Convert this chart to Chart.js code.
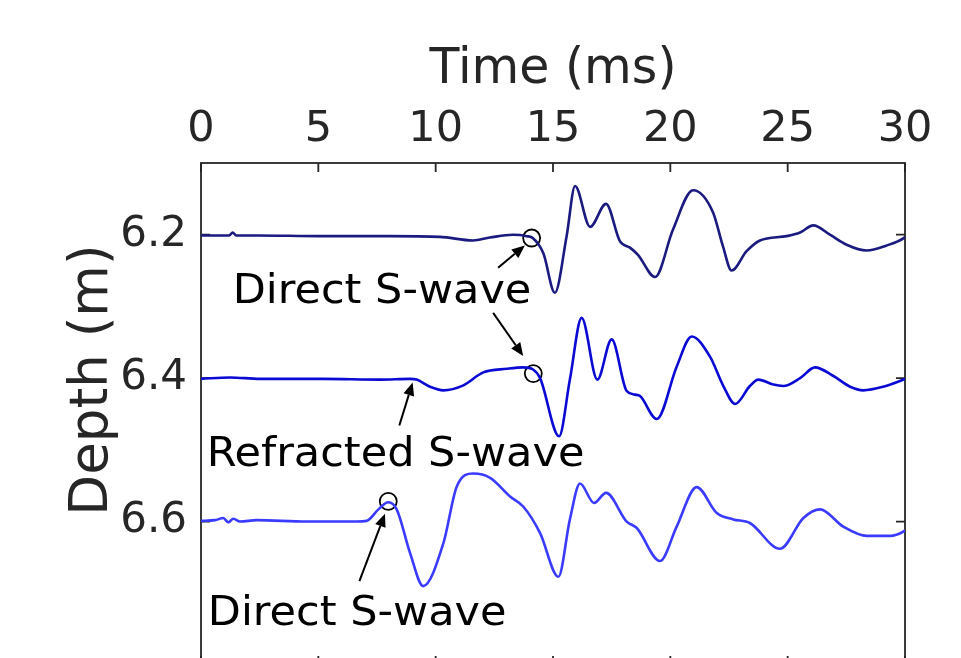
<!DOCTYPE html>
<html>
<head>
<meta charset="utf-8">
<script src="https://cdn.jsdelivr.net/npm/chart.js@4.4.0/dist/chart.umd.min.js"></script>
<style>
  html, body { margin: 0; padding: 0; background: #fff; overflow: hidden; }
  #wrap { width: 961px; height: 700px; position: relative; }
</style>
</head>
<body>
<div id="wrap"><canvas id="traces"></canvas></div>
<script>
// Seismic traces at three depths, time on top axis, depth reversed on the left

const timeTicks = [0, 5, 10, 15, 20, 25, 30];
const depthTicks = [6.2, 6.4, 6.6];

// trace at 6.2 m
const t1 = [0, 1.2, 1.35, 1.5, 2.39, 5.07, 8.05, 10.18, 11.59, 12.31, 13.29, 13.89, 14.15, 14.59, 15.08, 15.58, 15.94, 16.58, 17.26, 17.85, 18.28, 18.62, 19.35, 20.11, 20.97, 21.82, 22.24, 22.61, 23.25, 23.82, 24.96, 25.53, 26.09, 26.80, 27.51, 28.37, 29.22, 29.93, 30];
const d1 = [6.201, 6.201, 6.197, 6.201, 6.201, 6.202, 6.202, 6.203, 6.208, 6.204, 6.200, 6.202, 6.205, 6.226, 6.281, 6.202, 6.132, 6.189, 6.157, 6.209, 6.218, 6.228, 6.259, 6.193, 6.138, 6.169, 6.216, 6.250, 6.223, 6.208, 6.202, 6.197, 6.187, 6.200, 6.214, 6.222, 6.215, 6.205, 6.203];

// trace at 6.4 m
const t2 = [0, 1.24, 2.51, 5.20, 7.63, 8.91, 9.19, 9.76, 10.33, 11.18, 12.03, 13.03, 13.73, 14.15, 14.45, 15.26, 15.72, 16.22, 16.89, 17.50, 18.14, 18.49, 18.71, 19.42, 20.27, 20.91, 21.69, 22.26, 22.76, 23.39, 23.75, 24.39, 24.81, 25.53, 26.16, 26.95, 27.66, 28.22, 29.07, 29.93, 30];
const d2 = [6.401, 6.399, 6.401, 6.401, 6.402, 6.401, 6.402, 6.412, 6.417, 6.410, 6.392, 6.387, 6.385, 6.388, 6.400, 6.481, 6.402, 6.316, 6.402, 6.346, 6.418, 6.423, 6.425, 6.457, 6.384, 6.342, 6.370, 6.411, 6.436, 6.411, 6.402, 6.409, 6.411, 6.400, 6.385, 6.397, 6.412, 6.417, 6.412, 6.402, 6.401];

// trace at 6.6 m
const t3 = [0, 0.60, 0.95, 1.16, 1.38, 1.66, 2.37, 4.50, 6.63, 7.06, 7.56, 7.98, 8.34, 8.91, 9.47, 10.33, 10.90, 11.60, 12.32, 13.17, 13.73, 14.45, 15.23, 15.72, 16.15, 16.75, 17.26, 18.14, 18.57, 19.56, 20.27, 21.12, 21.98, 22.68, 23.39, 24.67, 25.67, 26.38, 27.37, 28.37, 29.36, 29.93, 30];
const d3 = [6.599, 6.598, 6.595, 6.601, 6.596, 6.600, 6.598, 6.600, 6.600, 6.599, 6.583, 6.573, 6.583, 6.644, 6.690, 6.630, 6.551, 6.533, 6.539, 6.565, 6.579, 6.616, 6.677, 6.597, 6.547, 6.574, 6.560, 6.600, 6.609, 6.655, 6.607, 6.552, 6.588, 6.597, 6.602, 6.638, 6.595, 6.583, 6.607, 6.620, 6.620, 6.614, 6.612];

// picked arrivals (circles)
const pickTimes = [14.09, 14.16, 7.98];
const pickDepths = [6.2046, 6.3937, 6.5717];

// annotation arrows: [time, depth]
const arrowTails = [[12.66, 6.246], [12.45, 6.309], [8.45, 6.466], [6.75, 6.683]];
const arrowHeads = [[13.80, 6.215], [13.73, 6.369], [9.02, 6.406], [7.84, 6.589]];

// annotation texts, left edge / baseline in data units
const noteTexts = ['Direct S-wave', 'Refracted S-wave', 'Direct S-wave'];
const noteTimes = [1.35, 0.24, 0.29];
const noteDepths = [6.2948, 6.522, 6.7436];

const FONT = 'DejaVu Sans';
const INK = '#262626';
const WIDEN = 1.075; // reference face runs a bit wider than DejaVu

function pts(ts, ds) {
  return ts.map((t, i) => ({ x: t, y: ds[i] }));
}

function trace(data, color) {
  return {
    type: 'line',
    data,
    borderColor: color,
    borderWidth: 2.6,
    pointRadius: 0,
    cubicInterpolationMode: 'monotone',
    fill: false
  };
}

// box with inward ticks, drawn under the traces
const frame = {
  id: 'frame',
  beforeDatasetsDraw(chart) {
    const { ctx, chartArea: a, scales: { x, y } } = chart;
    ctx.save();
    ctx.strokeStyle = INK;
    ctx.lineWidth = 1.8;
    ctx.strokeRect(a.left, a.top, a.right - a.left, a.bottom - a.top);
    ctx.beginPath();
    timeTicks.forEach(v => {
      const px = x.getPixelForValue(v);
      ctx.moveTo(px, a.top); ctx.lineTo(px, a.top + 9);
      ctx.moveTo(px, a.bottom); ctx.lineTo(px, a.bottom - 9);
    });
    depthTicks.forEach(v => {
      const py = y.getPixelForValue(v);
      ctx.moveTo(a.left, py); ctx.lineTo(a.left + 9, py);
      ctx.moveTo(a.right, py); ctx.lineTo(a.right - 9, py);
    });
    ctx.stroke();
    ctx.restore();
  }
};

// arrows, notes and the y title
const notes = {
  id: 'notes',
  afterDatasetsDraw(chart) {
    const { ctx, scales: { x, y } } = chart;
    ctx.save();
    ctx.strokeStyle = '#000';
    ctx.fillStyle = '#000';
    ctx.lineWidth = 2;
    arrowTails.forEach((tail, i) => {
      const x0 = x.getPixelForValue(tail[0]), y0 = y.getPixelForValue(tail[1]);
      const x1 = x.getPixelForValue(arrowHeads[i][0]), y1 = y.getPixelForValue(arrowHeads[i][1]);
      const ang = Math.atan2(y1 - y0, x1 - x0);
      const hl = 13, hw = 5.5;
      ctx.beginPath();
      ctx.moveTo(x0, y0);
      ctx.lineTo(x1 - hl * Math.cos(ang), y1 - hl * Math.sin(ang));
      ctx.stroke();
      ctx.beginPath();
      ctx.moveTo(x1, y1);
      ctx.lineTo(x1 - hl * Math.cos(ang) + hw * Math.sin(ang), y1 - hl * Math.sin(ang) - hw * Math.cos(ang));
      ctx.lineTo(x1 - hl * Math.cos(ang) - hw * Math.sin(ang), y1 - hl * Math.sin(ang) + hw * Math.cos(ang));
      ctx.closePath();
      ctx.fill();
    });

    ctx.font = '40px "' + FONT + '"';
    ctx.textAlign = 'left';
    ctx.textBaseline = 'alphabetic';
    noteTexts.forEach((s, i) => {
      ctx.save();
      ctx.translate(x.getPixelForValue(noteTimes[i]), y.getPixelForValue(noteDepths[i]));
      ctx.scale(WIDEN, 1);
      ctx.fillText(s, 0, 0);
      ctx.restore();
    });

    ctx.fillStyle = INK;
    ctx.font = '53px "' + FONT + '"';
    ctx.textAlign = 'center';
    ctx.translate(107, 380);
    ctx.rotate(-Math.PI / 2);
    ctx.fillText('Depth (m)', 0, 0);
    ctx.restore();
  }
};

new Chart(document.getElementById('traces'), {
  type: 'line',
  data: {
    datasets: [
      trace(pts(t1, d1), '#1a1a80'),
      trace(pts(t2, d2), '#0a0ad4'),
      trace(pts(t3, d3), '#3b3bff'),
      {
        type: 'scatter',
        data: pts(pickTimes, pickDepths),
        pointRadius: 8.5,
        pointBorderWidth: 1.8,
        pointBorderColor: '#000',
        pointBackgroundColor: 'rgba(0,0,0,0)',
        showLine: false
      }
    ]
  },
  options: {
    responsive: true,
    maintainAspectRatio: false,
    animation: false,
    layout: { padding: { left: 0, right: 56, top: 0, bottom: 35 } },
    plugins: { legend: { display: false }, tooltip: { enabled: false } },
    scales: {
      x: {
        type: 'linear',
        position: 'top',
        min: 0,
        max: 30,
        afterBuildTicks: s => { s.ticks = timeTicks.map(v => ({ value: v })); },
        afterFit: s => { s.height = 163; },
        grid: { display: false },
        border: { display: false },
        ticks: {
          font: { family: FONT, size: 43 },
          color: INK,
          padding: -1,
          maxRotation: 0,
          autoSkip: false
        },
        title: {
          display: true,
          text: 'Time (ms)',
          font: { family: FONT, size: 49 },
          color: INK,
          padding: { top: 41, bottom: 0 }
        }
      },
      y: {
        type: 'linear',
        reverse: true,
        min: 6.1,
        max: 6.8,
        afterBuildTicks: s => { s.ticks = depthTicks.map(v => ({ value: v })); },
        afterFit: s => { s.width = 201; },
        grid: { display: false },
        border: { display: false },
        ticks: {
          font: { family: FONT, size: 42 },
          color: INK,
          padding: 6,
          callback: v => v.toFixed(1)
        }
      }
    }
  },
  plugins: [frame, notes]
});
</script>
</body>
</html>
